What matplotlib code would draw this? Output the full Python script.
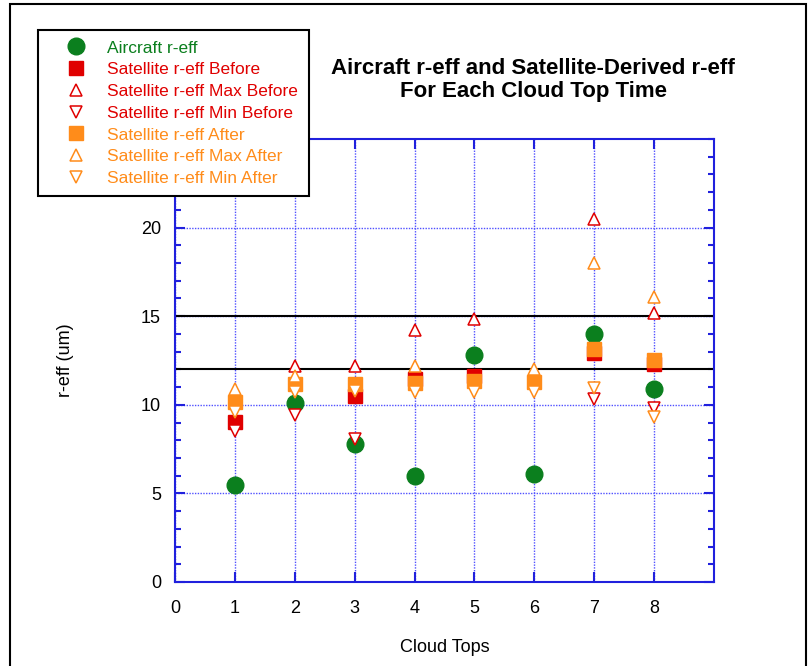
import numpy as np
import matplotlib
matplotlib.use("Agg")
import matplotlib.pyplot as plt
from matplotlib.patches import Rectangle

plt.rcParams["font.family"] = ["Liberation Sans", "DejaVu Sans"]

nan = np.nan
cloud_tops = [1, 2, 3, 4, 5, 6, 7, 8]
aircraft = [5.5, 10.1, 7.8, 6.0, 12.8, 6.1, 14.0, 10.9]
sat_before = [9.05, nan, 10.5, 11.45, 11.6, nan, 12.95, 12.3]
sat_max_before = [nan, 12.2, 12.2, 14.2, 14.85, nan, 20.5, 15.2]
sat_min_before = [8.5, 9.4, 8.05, nan, nan, nan, 10.3, 9.8]
sat_after = [10.15, 11.2, 11.2, 11.25, 11.35, 11.3, 13.15, 12.5]
sat_max_after = [10.9, 11.65, nan, 12.2, nan, 12.0, 18.0, 16.1]
sat_min_after = [9.6, 10.75, 10.8, 10.75, 10.7, 10.7, 10.95, 9.3]
ref_lines = [12, 15]

green = "#0b7f1e"
red = "#e00000"
orange = "#ff8c1a"
blue = "#2020dd"

fig = plt.figure(figsize=(8.11, 6.66), dpi=100)
ax = fig.add_axes([175 / 811, 1 - 582 / 666, 539 / 811, 443 / 666])

for y in ref_lines:
    ax.axhline(y, color="black", lw=1.5, zorder=2)

ax.plot(cloud_tops, aircraft, "o", ms=12, color=green, mec=green, label="Aircraft r-eff", zorder=3)
ax.plot(cloud_tops, sat_before, "s", ms=10, color=red, mec=red, label="Satellite r-eff Before", zorder=3)
ax.plot(cloud_tops, sat_max_before, "^", ms=8, mfc="white", mec=red, mew=1.1, label="Satellite r-eff Max Before", zorder=3)
ax.plot(cloud_tops, sat_min_before, "v", ms=8, mfc="white", mec=red, mew=1.1, label="Satellite r-eff Min Before", zorder=3)
ax.plot(cloud_tops, sat_after, "s", ms=10, color=orange, mec=orange, label="Satellite r-eff After", zorder=3)
ax.plot(cloud_tops, sat_max_after, "^", ms=8, mfc="white", mec=orange, mew=1.1, label="Satellite r-eff Max After", zorder=3)
ax.plot(cloud_tops, sat_min_after, "v", ms=8, mfc="white", mec=orange, mew=1.1, label="Satellite r-eff Min After", zorder=3)

ax.set_xlim(0, 9)
ax.set_ylim(0, 25)
ax.set_xticks(range(0, 9))
ax.set_yticks([0, 5, 10, 15, 20])
ax.set_yticks(range(0, 26), minor=True)
ax.grid(True, which="major", color="#5050ff", ls=(0, (1, 1)), lw=1, zorder=1)
for s in ax.spines.values():
    s.set_color(blue)
    s.set_linewidth(1.5)
ax.tick_params(which="both", direction="in", color=blue, top=True, right=True,
               labelsize=13, width=1.5)
ax.tick_params(which="major", length=7.5)
ax.tick_params(which="minor", length=4)
ax.tick_params(axis="x", pad=13)
ax.tick_params(axis="y", pad=10)

ax.set_xlabel("Cloud Tops", fontsize=13, labelpad=16)
ax.set_ylabel("r-eff (um)", fontsize=13, labelpad=48)

fig.text(533 / 811, 1 - 80 / 666, "Aircraft r-eff and Satellite-Derived r-eff\nFor Each Cloud Top Time",
         ha="center", va="center", fontsize=16, fontweight="bold", linespacing=1.17)

leg = ax.legend(loc="upper left", bbox_to_anchor=(38 / 811, 1 - 30 / 666),
                bbox_transform=fig.transFigure, borderaxespad=0, fontsize=12.5,
                frameon=True, fancybox=False, edgecolor="black", framealpha=1,
                labelspacing=0.38, handletextpad=0.2, borderpad=0.6, handlelength=3.2)
leg.get_frame().set_linewidth(1.5)
leg.set_zorder(5)
for text, line in zip(leg.get_texts(), leg.get_lines()):
    text.set_color(line.get_markeredgecolor())

fig.patches.append(Rectangle((10 / 811, -0.1), 796 / 811, 1.1 - 4 / 666, transform=fig.transFigure,
                             fill=False, edgecolor="black", lw=1.5))

fig.savefig("out.png", dpi=100)
